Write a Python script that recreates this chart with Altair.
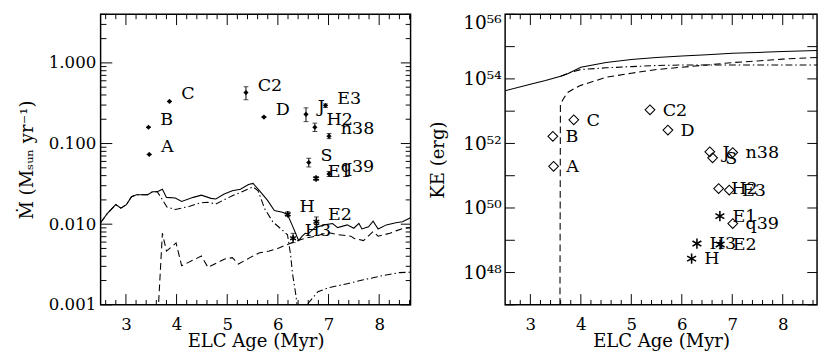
import math
import altair as alt
import pandas as pd

FONT = "DejaVu Serif"

# ---------------- shared point data ----------------
NAMES = ["A", "B", "C", "C2", "D", "J", "S", "n38", "H2", "E3", "q39", "E1", "H3", "E2", "H"]
SYMS = ["d", "d", "d", "d", "d", "d", "d", "d", "d", "d", "d", "a", "a", "a", "a"]
AGES = [3.46, 3.445, 3.86, 5.37, 5.725, 6.555, 6.61, 7.01, 6.73, 6.94, 7.01, 6.755, 6.30, 6.76, 6.195]

# left panel: mass-loss rate with error bars
MDOT = [0.0733, 0.159, 0.333, 0.428, 0.213, 0.230, 0.0582, 0.1235, 0.159, 0.296, 0.042, 0.0368, 0.0067, 0.0107, 0.0133]
ERR_LO = [0.0733, 0.159, 0.333, 0.349, 0.213, 0.187, 0.0512, 0.115, 0.141, 0.28, 0.039, 0.035, 0.0059, 0.0093, 0.0125]
ERR_HI = [0.0733, 0.159, 0.333, 0.506, 0.213, 0.277, 0.0657, 0.133, 0.179, 0.31, 0.045, 0.039, 0.0077, 0.0123, 0.0142]

# right panel: kinetic energy
KE = [1.95e51, 1.66e52, 5.4e52, 1.1e53, 2.6e52, 5.5e51, 3.6e51, 5.2e51, 4.0e50, 3.6e50, 3.3e49, 5.6e49, 7.9e48, 7.4e48, 2.7e48]

# ---------------- left panel model curves ----------------
L_SOLID_AGE = [2.50, 2.63, 2.80, 2.90, 3.01, 3.11, 3.21, 3.43, 3.525, 3.62, 3.72, 3.80, 3.975, 4.10, 4.33, 4.49,
               4.68, 4.775, 4.94, 5.10, 5.26, 5.42, 5.51, 5.64, 5.80, 5.93, 6.09, 6.19, 6.28, 6.35, 6.41, 6.475,
               6.54, 6.60, 6.73, 6.92, 7.08, 7.18, 7.37, 7.50, 7.60, 7.66, 7.79, 7.88, 7.98, 8.14, 8.33, 8.46, 8.62]
L_SOLID_VAL = [0.0104, 0.0135, 0.0175, 0.0158, 0.0175, 0.0219, 0.0232, 0.0232, 0.0252, 0.0252, 0.0271, 0.0215,
               0.0211, 0.0191, 0.0215, 0.0229, 0.0209, 0.0205, 0.0236, 0.0259, 0.0271, 0.0311, 0.0320, 0.0259,
               0.0196, 0.0148, 0.0141, 0.0132, 0.0098, 0.0077, 0.00625, 0.00705, 0.0077, 0.0076, 0.00906, 0.0098,
               0.0102, 0.00906, 0.0098, 0.0089, 0.0102, 0.00873, 0.0093, 0.0109, 0.0087, 0.0098, 0.0104, 0.0107, 0.0120]

L_DASHDOT_AGE = [2.50, 2.63, 2.80, 2.90, 3.01, 3.11, 3.21, 3.43, 3.525, 3.62, 3.69, 3.81, 3.975, 4.26, 4.46, 4.615,
                 4.775, 4.94, 5.10, 5.26, 5.51, 5.61, 5.74, 5.90, 6.06, 6.19, 6.25, 6.29, 6.35, 6.40, 6.58, 6.60,
                 6.79, 6.99, 7.37, 7.69, 8.08, 8.40, 8.62]
L_DASHDOT_VAL = [0.0104, 0.0135, 0.0175, 0.0158, 0.0175, 0.0219, 0.0232, 0.0232, 0.0252, 0.0252, 0.0215, 0.0163,
                 0.0152, 0.0167, 0.0183, 0.0187, 0.0178, 0.0201, 0.0225, 0.0247, 0.0290, 0.0259, 0.0155, 0.0107,
                 0.00873, 0.0074, 0.00423, 0.00242, 0.00139, 0.0008, 0.0008, 0.00105, 0.00145, 0.00162, 0.00183,
                 0.00204, 0.00231, 0.00251, 0.00254]

L_DASHED_AGE = [3.635, 3.72, 3.80, 3.99, 4.10, 4.49, 4.62, 4.94, 5.10, 5.22, 5.45, 5.64, 5.83, 6.02, 6.19, 6.35,
                6.54, 6.73, 6.99, 7.18, 7.44, 7.50, 7.69, 7.88, 7.98, 8.21, 8.33, 8.46, 8.62]
L_DASHED_VAL = [0.0008, 0.00773, 0.00464, 0.00585, 0.00305, 0.00403, 0.00291, 0.00368, 0.00385, 0.0032, 0.00385,
                0.00442, 0.00464, 0.00508, 0.00559, 0.00613, 0.00672, 0.00705, 0.0079, 0.0074, 0.0071, 0.00668,
                0.00625, 0.0081, 0.0071, 0.0077, 0.00826, 0.0088, 0.0091]

# ---------------- right panel model curves ----------------
R_SOLID_AGE = [2.5, 3.0, 3.3, 3.6, 3.74, 4.0, 4.5, 5.0, 5.5, 6.0, 6.5, 7.0, 7.5, 8.0, 8.68]
R_SOLID_VAL = [4.3e53, 6.8e53, 8.9e53, 1.2e54, 1.45e54, 2.3e54, 3.2e54, 4.0e54, 4.6e54, 5.1e54, 5.6e54, 6.2e54,
               6.6e54, 7.1e54, 7.6e54]
R_DASHDOT_AGE = [3.6, 3.8, 4.0, 4.5, 5.0, 5.5, 6.0, 7.0, 8.0, 8.68]
R_DASHDOT_VAL = [1.2e54, 1.6e54, 1.95e54, 2.2e54, 2.4e54, 2.6e54, 2.7e54, 2.7e54, 2.7e54, 2.7e54]
R_DASHED_AGE = [3.585, 3.595, 3.66, 3.74, 3.87, 4.0, 4.5, 5.0, 5.5, 6.0, 6.5, 7.0, 7.5, 8.0, 8.68]
R_DASHED_VAL = [1e46, 1.6e53, 2.5e53, 3.8e53, 5.0e53, 6.3e53, 1.12e54, 1.5e54, 1.95e54, 2.3e54, 2.7e54, 3.2e54,
                3.6e54, 4.1e54, 4.6e54]

# ---------------- ticks ----------------
X_MAJOR = [3, 4, 5, 6, 7, 8]
X_MINOR = [2.6, 2.8, 3.2, 3.4, 3.6, 3.8, 4.2, 4.4, 4.6, 4.8, 5.2, 5.4, 5.6, 5.8, 6.2, 6.4, 6.6, 6.8,
           7.2, 7.4, 7.6, 7.8, 8.2, 8.4, 8.6]
YL_MAJOR = [0.001, 0.01, 0.1, 1.0]
YL_MINOR = [0.002, 0.003, 0.004, 0.005, 0.006, 0.007, 0.008, 0.009,
            0.02, 0.03, 0.04, 0.05, 0.06, 0.07, 0.08, 0.09,
            0.2, 0.3, 0.4, 0.5, 0.6, 0.7, 0.8, 0.9, 2.0, 3.0, 4.0]
YR_TICKS = [1e47, 1e48, 1e49, 1e50, 1e51, 1e52, 1e53, 1e54, 1e55, 1e56]
YR_LABELS = {48: "10⁴⁸", 50: "10⁵⁰", 52: "10⁵²", 54: "10⁵⁴", 56: "10⁵⁶"}

X_TITLE = "ELC Age (Myr)"
YL_TITLE = "Ṁ (Mₛᵤₙ yr⁻¹)"
YR_TITLE = "KE (erg)"

pts = pd.DataFrame({"name": NAMES, "sym": SYMS, "age": AGES, "mdot": MDOT, "lo": ERR_LO, "hi": ERR_HI, "ke": KE})


def curve_df(ages, vals, yname):
    return pd.DataFrame({"age": ages, yname: vals})


XD_L = [2.5, 8.62]
YD_L = [0.001, 4.0]
XD_R = [2.5, 8.68]
YD_R = [1e47, 1e56]
XS_L = alt.Scale(domain=XD_L, nice=False, zero=False)
YS_L = alt.Scale(type="log", domain=YD_L, nice=False)
XS_R = alt.Scale(domain=XD_R, nice=False, zero=False)
YS_R = alt.Scale(type="log", domain=YD_R, nice=False)

H = 298
W_L = 318
W_R = 320


def log_at(dom, frac):
    a, b = math.log10(dom[0]), math.log10(dom[1])
    return 10 ** (a + frac * (b - a))


def lin_at(dom, frac):
    return dom[0] + frac * (dom[1] - dom[0])


def x_ticks(vals, xs, ys, ydom, ln):
    # inward ticks on the bottom and top frame edges (length given in pixels -> fraction of height)
    f = ln / H
    bot = pd.DataFrame({"age": vals, "t1": [ydom[0]] * len(vals), "t2": [log_at(ydom, f)] * len(vals)})
    top = pd.DataFrame({"age": vals, "t1": [log_at(ydom, 1 - f)] * len(vals), "t2": [ydom[1]] * len(vals)})
    out = []
    for df in (bot, top):
        out.append(alt.Chart(df).mark_rule(color="black", strokeWidth=1).encode(
            x=alt.X("age:Q", scale=xs), y=alt.Y("t1:Q", scale=ys), y2="t2:Q"))
    return out


def y_ticks(vals, xs, ys, xdom, w, ln_left, ln_right):
    fl = ln_left / w
    fr = ln_right / w
    lft = pd.DataFrame({"tv": vals, "a1": [xdom[0]] * len(vals), "a2": [lin_at(xdom, fl)] * len(vals)})
    rgt = pd.DataFrame({"tv": vals, "a1": [lin_at(xdom, 1 - fr)] * len(vals), "a2": [xdom[1]] * len(vals)})
    out = []
    for df in (lft, rgt):
        out.append(alt.Chart(df).mark_rule(color="black", strokeWidth=1).encode(
            y=alt.Y("tv:Q", scale=ys), x=alt.X("a1:Q", scale=xs), x2="a2:Q"))
    return out


def label_axes(src, yfield, xs, ys, yvalues, ytitle, yextra):
    common = dict(ticks=False, domain=False, grid=False, labelOverlap=False)
    yk = dict(common, orient="left", values=yvalues, title=ytitle)
    yk.update(yextra)
    return alt.Chart(src).mark_point(opacity=0).encode(
        x=alt.X("age:Q", scale=xs,
                axis=alt.Axis(orient="bottom", values=X_MAJOR, title=X_TITLE, labelPadding=12,
                              titlePadding=0, **common)),
        y=alt.Y(yfield, scale=ys, axis=alt.Axis(**yk)),
    )


def line(df, yname, xs, ys, dash=None):
    kw = dict(color="black", strokeWidth=1.1, clip=True)
    if dash:
        kw["strokeDash"] = dash
    return alt.Chart(df).mark_line(**kw).encode(
        x=alt.X("age:Q", scale=xs),
        y=alt.Y(f"{yname}:Q", scale=ys),
        order="age:Q",
    )


DASH = [7, 4]
DASHDOT = [7, 3, 1.5, 3]
ASTER = "M0,-1L0,1M-0.87,-0.5L0.87,0.5M-0.87,0.5L0.87,-0.5"

# ---------------- left panel ----------------
xl = alt.X("age:Q", scale=XS_L)
left_layers = [
    label_axes(pts, "mdot:Q", XS_L, YS_L, YL_MAJOR, YL_TITLE,
               dict(format=".3f", labelPadding=5, titlePadding=12)),
    line(curve_df(L_SOLID_AGE, L_SOLID_VAL, "mdot"), "mdot", XS_L, YS_L),
    line(curve_df(L_DASHDOT_AGE, L_DASHDOT_VAL, "mdot"), "mdot", XS_L, YS_L, DASHDOT),
    line(curve_df(L_DASHED_AGE, L_DASHED_VAL, "mdot"), "mdot", XS_L, YS_L, DASH),
    alt.Chart(pts).mark_rule(color="black", strokeWidth=1).encode(
        x=xl, y=alt.Y("lo:Q", scale=YS_L), y2="hi:Q"),
    alt.Chart(pts).mark_tick(orient="horizontal", size=5, thickness=1, color="black").encode(
        x=xl, y=alt.Y("lo:Q", scale=YS_L)),
    alt.Chart(pts).mark_tick(orient="horizontal", size=5, thickness=1, color="black").encode(
        x=xl, y=alt.Y("hi:Q", scale=YS_L)),
    alt.Chart(pts).transform_filter("datum.sym == 'd'").mark_point(
        shape="diamond", filled=True, size=28, color="black", opacity=1).encode(
        x=xl, y=alt.Y("mdot:Q", scale=YS_L)),
    alt.Chart(pts).transform_filter("datum.sym == 'a'").mark_point(
        shape=ASTER, filled=False, size=45, strokeWidth=1.6, color="black", opacity=1).encode(
        x=xl, y=alt.Y("mdot:Q", scale=YS_L)),
    alt.Chart(pts).mark_text(align="left", baseline="alphabetic", dx=12, dy=-2, font=FONT,
                             fontSize=18, color="black").encode(
        x=xl, y=alt.Y("mdot:Q", scale=YS_L), text="name:N"),
]
left_layers += x_ticks(X_MAJOR, XS_L, YS_L, YD_L, 11) + x_ticks(X_MINOR, XS_L, YS_L, YD_L, 5)
left_layers += (y_ticks(YL_MAJOR, XS_L, YS_L, XD_L, W_L, 12, 10)
                + y_ticks(YL_MINOR, XS_L, YS_L, XD_L, W_L, 6, 5))
left = alt.layer(*left_layers).properties(width=W_L, height=H)

# ---------------- right panel ----------------
xr = alt.X("age:Q", scale=XS_R)
expr_parts = " : ".join(
    f"(round(log(datum.value)/LN10) == {k}) ? '{v}'" for k, v in YR_LABELS.items()) + " : ''"
right_layers = [
    label_axes(pts, "ke:Q", XS_R, YS_R, YR_TICKS, YR_TITLE,
               dict(labelExpr=expr_parts, labelPadding=4, titlePadding=16, labelFlush=True,
                    labelFontSize=19)),
    line(curve_df(R_SOLID_AGE, R_SOLID_VAL, "ke"), "ke", XS_R, YS_R),
    line(curve_df(R_DASHDOT_AGE, R_DASHDOT_VAL, "ke"), "ke", XS_R, YS_R, DASHDOT),
    line(curve_df(R_DASHED_AGE, R_DASHED_VAL, "ke"), "ke", XS_R, YS_R, DASH),
    alt.Chart(pts).transform_filter("datum.sym == 'd'").mark_point(
        shape="diamond", filled=False, size=100, strokeWidth=1.1, color="black", opacity=1).encode(
        x=xr, y=alt.Y("ke:Q", scale=YS_R)),
    alt.Chart(pts).transform_filter("datum.sym == 'a'").mark_point(
        shape=ASTER, filled=False, size=110, strokeWidth=1.6, color="black", opacity=1).encode(
        x=xr, y=alt.Y("ke:Q", scale=YS_R)),
    alt.Chart(pts).mark_text(align="left", baseline="middle", dx=13, dy=1, font=FONT,
                             fontSize=18, color="black").encode(
        x=xr, y=alt.Y("ke:Q", scale=YS_R), text="name:N"),
]
right_layers += x_ticks(X_MAJOR, XS_R, YS_R, YD_R, 11) + x_ticks(X_MINOR, XS_R, YS_R, YD_R, 5)
right_layers += y_ticks(YR_TICKS, XS_R, YS_R, XD_R, W_R, 10, 10)
right = alt.layer(*right_layers).properties(width=W_R, height=H)

chart = alt.hconcat(left, right, spacing=15).properties(
    padding={"left": 9, "top": 0, "right": 0, "bottom": 0}
).configure_view(
    stroke="black", strokeWidth=1.5
).configure_axis(
    labelFont=FONT, titleFont=FONT, labelFontSize=17, titleFontSize=18.5, titleFontWeight="normal",
    labelColor="black", titleColor="black"
)

chart.save("out.html", embed_options={"renderer": "svg", "actions": False})
